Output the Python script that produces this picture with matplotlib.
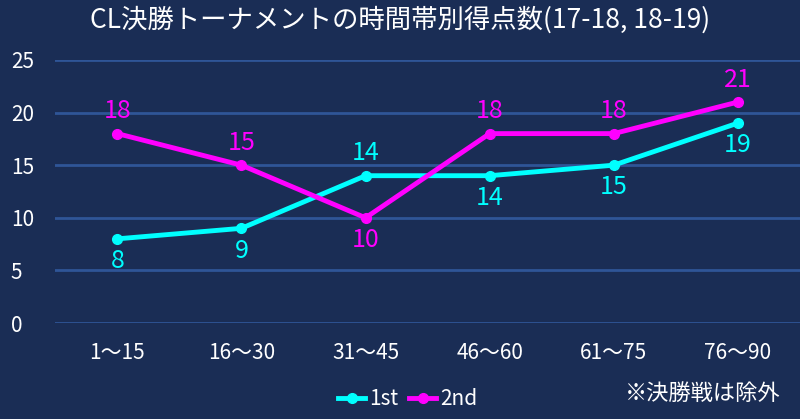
import matplotlib.pyplot as plt

plt.rcParams['font.family'] = ['Noto Sans CJK JP', 'DejaVu Sans']

categories = ["1～15", "16～30", "31～45", "46～60", "61～75", "76～90"]
first = [8, 9, 14, 14, 15, 19]
second = [18, 15, 10, 18, 18, 21]
# label placement: +1 above the point, -1 below
first_pos = [-1, -1, 1, -1, -1, -1]
second_pos = [1, 1, -1, 1, 1, 1]

bg = "#1a2d55"
cyan = "#00ffff"
magenta = "#ff00ff"

fig = plt.figure(figsize=(8, 4.19), dpi=100, facecolor=bg)
ax = fig.add_axes([0.069, 0.229, 0.931, 0.628], facecolor=bg)

x = list(range(len(categories)))
ax.plot(x, first, color=cyan, lw=3.5, marker="o", ms=7, label="1st")
ax.plot(x, second, color=magenta, lw=3.5, marker="o", ms=7, label="2nd")

for xi, v, p in zip(x, first, first_pos):
    ax.annotate(str(v), (xi, v), xytext=(0, 16 * p), textcoords="offset points",
                ha="center", va="center", color=cyan, fontsize=18)
for xi, v, p in zip(x, second, second_pos):
    ax.annotate(str(v), (xi, v), xytext=(0, 16 * p), textcoords="offset points",
                ha="center", va="center", color=magenta, fontsize=18)

ax.set_xlim(-0.5, 5.5)
ax.set_ylim(0, 25)
ax.set_yticks(range(0, 26, 5))
ax.set_xticks(x)
ax.set_xticklabels(categories)
ax.yaxis.grid(True, color="#2f5597", lw=2)
ax.set_axisbelow(True)
for s in ax.spines.values():
    s.set_visible(False)
ax.tick_params(length=0, colors="white", labelsize=15)
ax.tick_params(axis="y", pad=32, labelsize=15)
for t in ax.get_yticklabels():
    t.set_horizontalalignment("left")
ax.tick_params(axis="x", pad=14)

fig.text(0.5, 0.952, "CL決勝トーナメントの時間帯別得点数(17-18, 18-19)",
         ha="center", va="center", color="white", fontsize=19)

leg = fig.legend(loc="center", bbox_to_anchor=(0.51, 0.048), ncol=2, frameon=False,
                 fontsize=15, handlelength=1.3, handletextpad=0.2, columnspacing=0.5,
                 labelcolor="white")
fig.text(0.975, 0.06, "※決勝戦は除外", ha="right", va="center", color="white", fontsize=16)

fig.savefig("out.png", dpi=100, facecolor=bg)
